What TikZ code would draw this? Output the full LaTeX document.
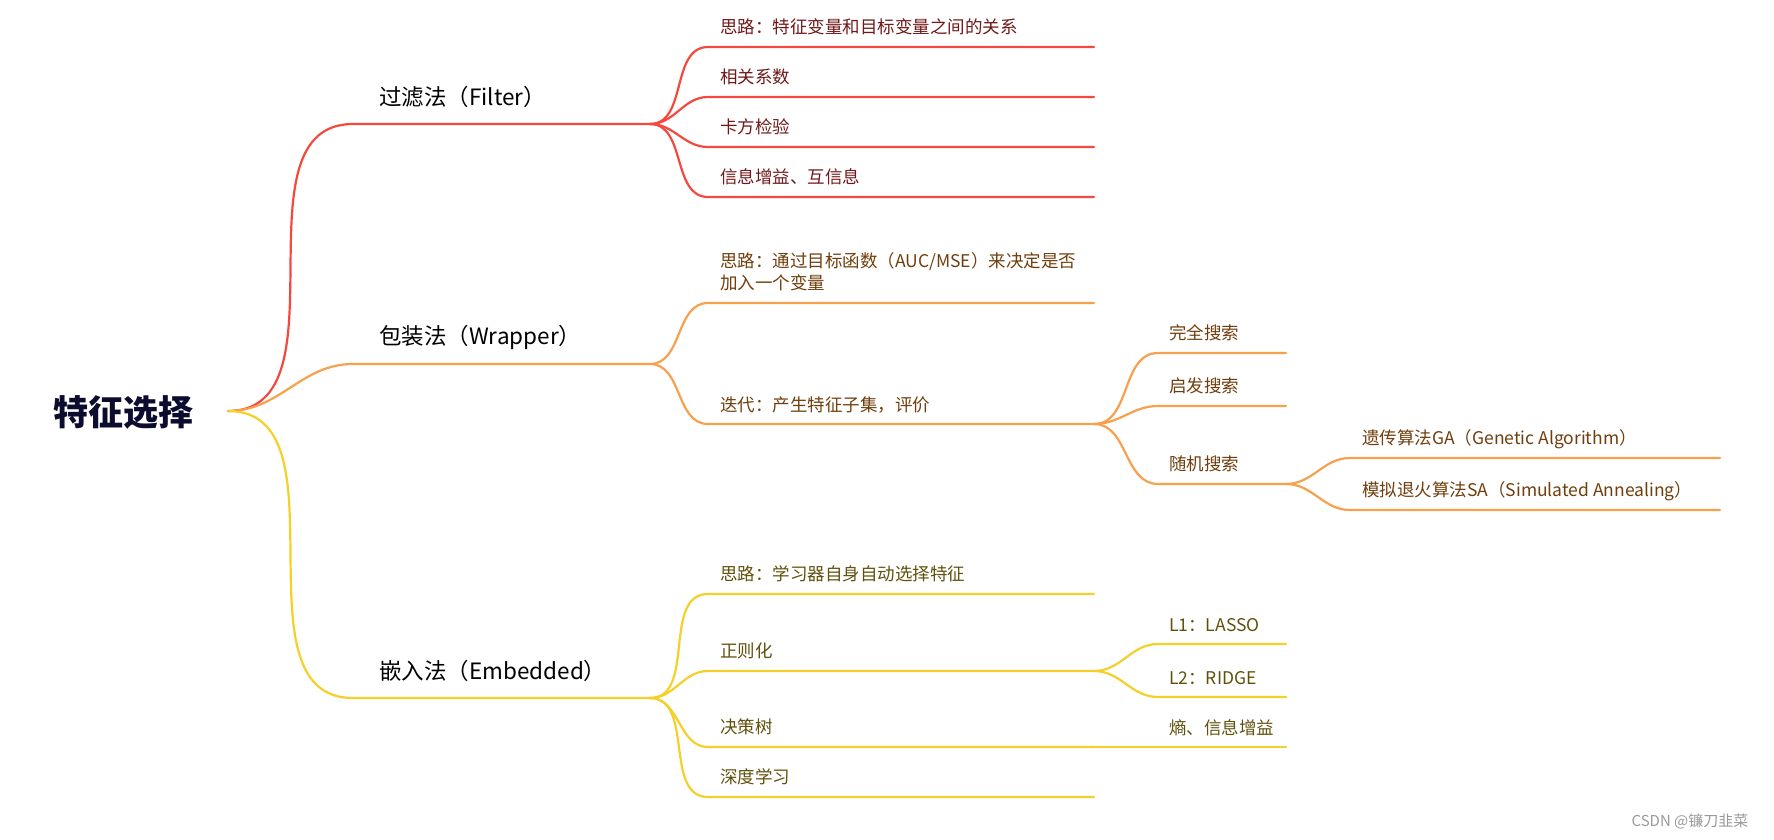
\documentclass[tikz,border=0pt]{standalone}
\usepackage{fontspec}
\setmainfont{Noto Sans CJK SC}
\usetikzlibrary{calc}

\definecolor{filtercol}{RGB}{245,73,63}
\definecolor{wrapcol}{RGB}{247,160,77}
\definecolor{embedcol}{RGB}{245,208,40}
\definecolor{filterink}{RGB}{112,24,24}
\definecolor{wrapink}{RGB}{112,62,12}
\definecolor{embedink}{RGB}{96,80,12}
\definecolor{rootink}{RGB}{12,12,46}

\tikzset{
    rootnode/.style={font=\bfseries\fontsize{35}{40}\selectfont, text=rootink, inner sep=0pt},
    mainnode/.style={font=\fontsize{22.5}{27}\selectfont, text=black, anchor=west, inner sep=0pt},
    leafnode/.style={font=\fontsize{17.5}{22}\selectfont, anchor=west, inner sep=0pt, align=left},
    link/.style={line width=2.2pt, line cap=round},
}

\begin{document}
\begin{tikzpicture}[x=1pt, y=-1pt]
    \useasboundingbox (0,0) rectangle (1774,839);

    % root
    \node[rootnode] (root) at (123,412) {特征选择};
    \coordinate (rootfork) at (228,411);

    % first level
    \foreach \name/\txt/\yy/\col in {filter/过滤法（Filter）/124/filtercol, wrap/包装法（Wrapper）/364/wrapcol, embed/嵌入法（Embedded）/698/embedcol} {
        \coordinate (\name-a) at (353,\yy);
        \coordinate (\name-b) at (650,\yy);
        \node[mainnode] (\name) at (379,\yy-27) {\txt};
        \draw[link, \col] (rootfork) to[out=0, in=180] (\name-a) -- (\name-b);
    }

    % filter
    \foreach \txt/\yy [count=\i] in {思路：特征变量和目标变量之间的关系/47, 相关系数/97, 卡方检验/147, 信息增益、互信息/197} {
        \coordinate (filter-\i-a) at (708,\yy);
        \coordinate (filter-\i-b) at (1094,\yy);
        \node[leafnode, text=filterink] (filter-\i) at (720,\yy-20) {\txt};
        \draw[link, filtercol] (filter-b) to[out=0, in=180] (filter-\i-a) -- (filter-\i-b);
    }

    % wrapper
    \coordinate (wrap-1-a) at (708,303);
    \coordinate (wrap-1-b) at (1094,303);
    \node[leafnode, text=wrapink] (wrap-1) at (720,272) {思路：通过目标函数（AUC/MSE）来决定是否\\加入一个变量};
    \draw[link, wrapcol] (wrap-b) to[out=0, in=180] (wrap-1-a) -- (wrap-1-b);
    \coordinate (wrap-2-a) at (708,424);
    \coordinate (wrap-2-b) at (1094,424);
    \node[leafnode, text=wrapink] (wrap-2) at (720,405) {迭代：产生特征子集，评价};
    \draw[link, wrapcol] (wrap-b) to[out=0, in=180] (wrap-2-a) -- (wrap-2-b);

    \foreach \txt/\yy [count=\i] in {完全搜索/353, 启发搜索/406, 随机搜索/484} {
        \coordinate (search-\i-a) at (1158,\yy);
        \coordinate (search-\i-b) at (1286,\yy);
        \node[leafnode, text=wrapink] (search-\i) at (1169,\yy-20) {\txt};
        \draw[link, wrapcol] (wrap-2-b) to[out=0, in=180] (search-\i-a) -- (search-\i-b);
    }

    \foreach \txt/\yy [count=\i] in {遗传算法GA（Genetic Algorithm）/458, 模拟退火算法SA（Simulated Annealing）/510} {
        \coordinate (rand-\i-a) at (1350,\yy);
        \coordinate (rand-\i-b) at (1720,\yy);
        \node[leafnode, text=wrapink] (rand-\i) at (1362,\yy-19) {\txt};
        \draw[link, wrapcol] (search-3-b) to[out=0, in=180] (rand-\i-a) -- (rand-\i-b);
    }

    % embedded
    \foreach \txt/\yy [count=\i] in {思路：学习器自身自动选择特征/594, 正则化/671, 决策树/747, 深度学习/797} {
        \coordinate (embed-\i-a) at (708,\yy);
        \coordinate (embed-\i-b) at (1094,\yy);
        \node[leafnode, text=embedink] (embed-\i) at (720,\yy-20) {\txt};
        \draw[link, embedcol] (embed-b) to[out=0, in=180] (embed-\i-a) -- (embed-\i-b);
    }

    \foreach \txt/\yy [count=\i] in {L1：LASSO/644, L2：RIDGE/697} {
        \coordinate (reg-\i-a) at (1158,\yy);
        \coordinate (reg-\i-b) at (1286,\yy);
        \node[leafnode, text=embedink] (reg-\i) at (1169,\yy-19) {\txt};
        \draw[link, embedcol] (embed-2-b) to[out=0, in=180] (reg-\i-a) -- (reg-\i-b);
    }

    \coordinate (tree-a) at (1158,747);
    \coordinate (tree-b) at (1286,747);
    \node[leafnode, text=embedink] (tree) at (1169,728) {熵、信息增益};
    \draw[link, embedcol] (embed-3-b) -- (tree-a) -- (tree-b);

    % watermark
    \node[font=\fontsize{15}{17}\selectfont, text=gray!80, inner sep=0pt] (mark) at (1690,821) {CSDN @镰刀韭菜};
\end{tikzpicture}
\end{document}
